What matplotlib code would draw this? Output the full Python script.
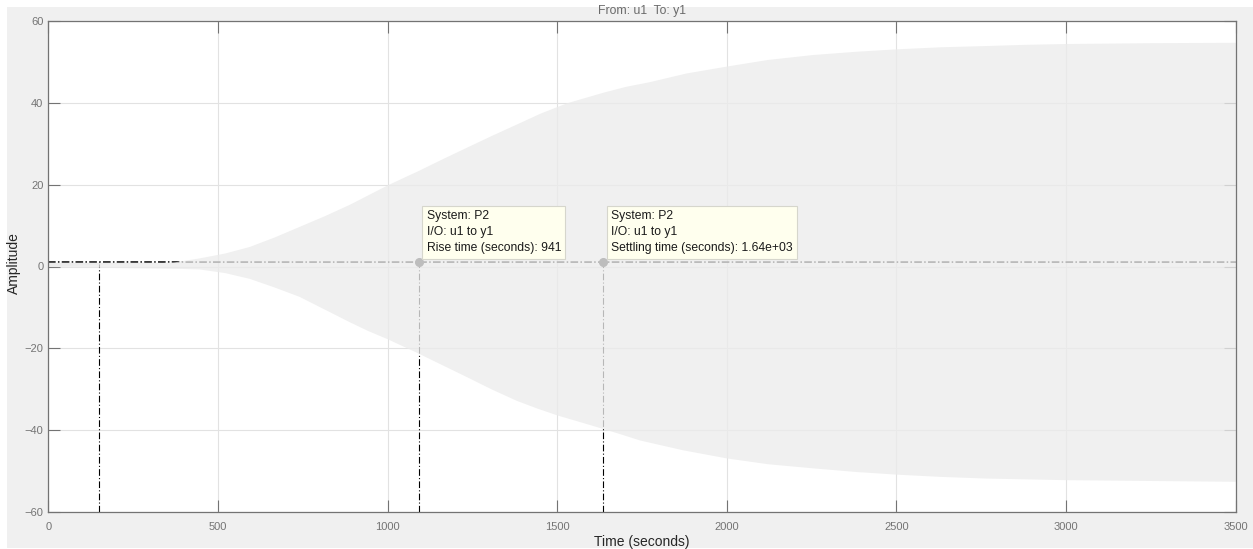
import matplotlib
matplotlib.use("Agg")
import matplotlib.pyplot as plt
from matplotlib.patches import Rectangle

plt.rcParams['font.family'] = ['Liberation Sans', 'DejaVu Sans']

# Envelope of the lightly damped step response of P2 (upper / lower extremes)
t_upper = [0, 150, 300, 368, 444, 520, 592, 665, 739, 813, 887, 1000, 1091, 1160,
           1231, 1305, 1379, 1450, 1527, 1635, 1700, 1773, 1880, 2000, 2120, 2252,
           2380, 2500, 2630, 2762, 2880, 3000, 3250, 3500]
y_upper = [0.0, 0.6, 0.9, 1.1, 2.1, 3.3, 4.9, 7.2, 9.8, 12.4, 15.2, 20.0, 23.5, 26.3,
           29.1, 32.0, 34.8, 37.5, 40.0, 42.6, 44.0, 45.2, 47.3, 49.0, 50.6, 51.8,
           52.6, 53.2, 53.7, 54.0, 54.3, 54.5, 54.7, 54.8]
t_lower = [0, 150, 300, 380, 444, 520, 592, 665, 739, 813, 887, 940, 1000, 1091, 1160,
           1232, 1305, 1379, 1440, 1500, 1570, 1635, 1690, 1743, 1870, 2000, 2120,
           2252, 2380, 2500, 2630, 2762, 2880, 3000, 3250, 3500]
y_lower = [0.0, -0.2, -0.35, -0.45, -0.6, -1.5, -2.9, -5.0, -7.3, -10.4, -13.5, -15.6,
           -17.7, -21.2, -24.0, -26.9, -29.9, -32.7, -34.6, -36.3, -38.0, -39.6,
           -41.0, -42.4, -44.8, -46.8, -48.2, -49.2, -50.1, -50.75, -51.3, -51.7,
           -51.9, -52.1, -52.3, -52.5]

# Step response characteristics
final_value = 1.0
rise_start = 150
rise_time = 941
settling_time = 1636

x_ticks = [0, 500, 1000, 1500, 2000, 2500, 3000, 3500]
y_ticks = [-60, -40, -20, 0, 20, 40, 60]

W, H = 1253, 549
fig = plt.figure(figsize=(W / 100, H / 100), dpi=100)
fig.patch.set_facecolor('white')
fig.patches.append(Rectangle((7 / W, 1 / H), 1 - 7 / W, (H - 8) / H,
                             transform=fig.transFigure, facecolor='#f0f0f0',
                             edgecolor='none', zorder=-10))

ax = fig.add_axes([48.5 / W, 37 / H, 1187 / W, 491 / H])
ax.set_facecolor('white')
ax.set_axisbelow(True)

# characteristic lines (partly covered by the response band)
ax.axhline(final_value, color='black', lw=1.1, ls=(0, (5, 1.5, 1, 1.5)), zorder=2)
rise_end = rise_start + rise_time
for tv in (rise_start, rise_end, settling_time):
    ax.plot([tv, tv], [-60, final_value], color='black', lw=0.8,
            ls=(0, (6, 2, 1, 2)), zorder=2)

# dense oscillating response drawn as a band
ax.fill_between(t_upper, y_upper, final_value, color='#ececec', alpha=0.78,
                lw=0, zorder=3)
ax.fill_between(t_lower, y_lower, final_value, color='#ececec', alpha=0.78,
                lw=0, zorder=3)

# characteristic points
ax.plot([rise_end, settling_time], [final_value, final_value], 'o',
        color='#bdbdbd', ms=5.5, mec='#bdbdbd', zorder=5)

tip_style = dict(boxstyle='square,pad=0.36', fc='#ffffee', ec='#d6d6cc', lw=0.8)
tip_text = dict(textcoords='offset pixels', ha='left', va='bottom', fontsize=8.7,
                color='#1a1a1a', linespacing=1.45, bbox=tip_style, zorder=6)
ax.annotate(f"System: P2\nI/O: u1 to y1\nRise time (seconds): {rise_time}",
            xy=(rise_end, final_value), xytext=(8, 8), **tip_text)
ax.annotate(f"System: P2\nI/O: u1 to y1\nSettling time (seconds): {settling_time:.2e}",
            xy=(settling_time, final_value), xytext=(8, 8), **tip_text)

ax.set_xlim(0, 3500)
ax.set_ylim(-60, 60)
ax.set_xticks(x_ticks)
ax.set_yticks(y_ticks)
ax.grid(True, color='#e2e2e2', lw=0.8)

axis_col = '#737373'
for s in ax.spines.values():
    s.set_color(axis_col)
    s.set_linewidth(0.9)
    s.set_zorder(7)
ax.tick_params(axis='both', which='both', direction='in', length=8.6, width=0.8,
               color=axis_col, labelcolor='#747474', labelsize=8,
               top=True, right=True)
ax.tick_params(axis='x', pad=7)
ax.tick_params(axis='y', pad=3.7)

ax.set_xlabel('Time (seconds)', fontsize=10, color='#262626')
ax.xaxis.set_label_coords(0.5, -0.047)
ax.set_ylabel('Amplitude', fontsize=10, color='#262626')
ax.yaxis.set_label_coords(-0.0232, 0.508)

fig.text(641.5 / W, 1 - 11 / H, 'From: u1  To: y1', ha='center', va='center',
         fontsize=8.8, color='#6a6a6a')

fig.savefig('out.png', dpi=100)
